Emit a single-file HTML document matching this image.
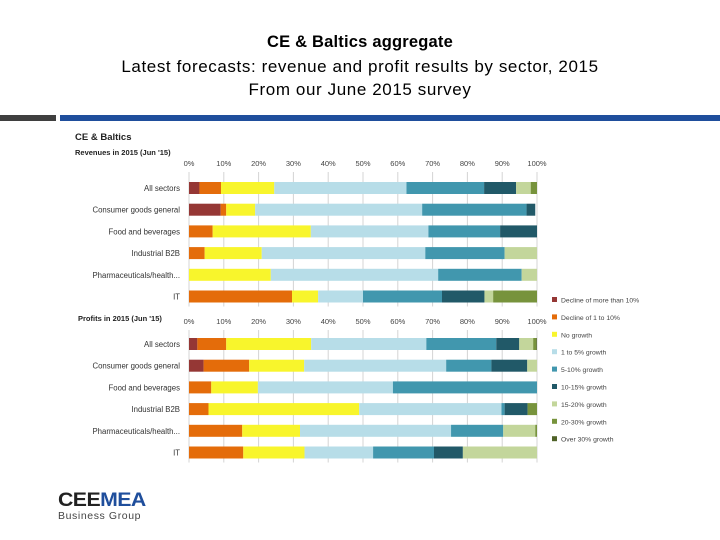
<!DOCTYPE html>
<html><head><meta charset="utf-8">
<style>
body{margin:0;width:720px;height:540px;background:#fff;overflow:hidden;position:relative;font-family:"Liberation Sans",sans-serif}
.t{position:absolute;left:0;width:720px;text-align:center;font-size:17px;letter-spacing:0.6px;color:#000;font-family:"Liberation Sans",sans-serif}
</style></head><body>
<div class="t" style="top:33px;font-weight:bold;font-size:16.5px;letter-spacing:0.2px">CE &amp; Baltics aggregate</div>
<div class="t" style="top:57px">Latest forecasts: revenue and profit results by sector, 2015</div>
<div class="t" style="top:80px">From our June 2015 survey</div>
<div style="position:absolute;left:0;top:115px;width:56px;height:6px;background:#3f3f3f"></div>
<div style="position:absolute;left:60px;top:115px;width:660px;height:6px;background:#1f4e9c"></div>
<svg id="chart" width="720" height="540" style="position:absolute;left:0;top:0" font-family="Liberation Sans, sans-serif"></svg>
<div style="position:absolute;left:58px;top:492px;font-family:'Liberation Sans',sans-serif">
<div style="font-size:19px;font-weight:bold;letter-spacing:-0.5px;line-height:18px;transform:scaleX(1.12);transform-origin:left"><span style="color:#222">CEE</span><span style="color:#1f4e9c">MEA</span></div>
<div style="font-size:10.5px;color:#444;line-height:12px;letter-spacing:0.6px">Business Group</div>
</div>
<script>
const categories=["All sectors","Consumer goods general","Food and beverages","Industrial B2B","Pharmaceuticals/health...","IT"];
const seriesNames=["Decline of more than 10%","Decline of 1 to 10%","No growth","1 to 5% growth","5-10% growth","10-15% growth","15-20% growth","20-30% growth","Over 30% growth"];
const tickLabels=["0%","10%","20%","30%","40%","50%","60%","70%","80%","90%","100%"];
const revenue=[
[3,6.2,15.3,38,22.3,9.2,4.2,1.8,0],
[9.1,1.6,8.3,48,30,2.5,0,0,0],
[0,6.8,28.2,33.8,20.6,10.6,0,0,0],
[0,4.5,16.4,47,22.8,0,9.3,0,0],
[0,0,23.5,48.1,24,0,4.4,0,0],
[0,29.6,7.5,12.9,22.7,12.2,2.5,12.6,0]];
const profits=[
[2.4,8.3,24.4,33.1,20.1,6.6,4,0.9,0.2],
[4.2,13.1,15.8,40.8,13,10.3,2.8,0,0],
[0,6.4,13.4,38.8,41.4,0,0,0,0],
[0,5.6,43.3,40.9,0.9,6.6,0,2.7,0],
[0,15.3,16.6,43.4,15,0,9.2,0.5,0],
[0,15.6,17.6,19.7,17.5,8.3,21.3,0,0]];
const colors=["#953735","#e46c0a","#f8f52c","#b7dde8","#4197ae","#215968","#c3d69b","#77933c","#4f6228"];
const svg=document.getElementById('chart');
const NS="http://www.w3.org/2000/svg";
const X0=189,W=348;
const x=v=>X0+v/100*W;
function mk(tag,attrs,text){const e=document.createElementNS(NS,tag);for(const k in attrs)e.setAttribute(k,attrs[k]);if(text!==undefined)e.textContent=text;svg.appendChild(e);return e;}
function txt(x0,y0,s,size,anchor,weight,fill){const e=mk('text',{x:x0,y:y0,'font-size':size,'text-anchor':anchor,'font-weight':weight||'normal',fill:fill||'#222'},s);return e;}
let e;
e=txt(75,140,"CE & Baltics",9.5,"start","bold");


e=txt(75,155,"Revenues in 2015 (Jun '15)",7.5,"start","bold");


e=txt(78,321,"Profits in 2015 (Jun '15)",7.5,"start","bold");


function panel(data,tickY,rowY0,name){
  const gTop=tickY+6,gBot=rowY0+5*21.7+10;
  tickLabels.forEach((t,i)=>{
    const xv=x(i*10);
    const l=mk('line',{x1:xv,x2:xv,y1:gTop,y2:gBot,stroke:'#d4d4d4','stroke-width':1});
    
    
    const tt=txt(xv,tickY,t,7.5,'middle','normal','#444');
    
    
  });
  data.forEach((row,r)=>{
    const cy=rowY0+r*21.7;
    const lab=txt(180,cy+3,categories[r],7.8,'end','normal','#333');
    
    
    let acc=0;
    row.forEach((v,s)=>{
      if(v<=0)return;
      const rc=mk('rect',{x:x(acc),y:cy-6,width:x(acc+v)-x(acc),height:12,fill:colors[s]});
      
      
      acc+=v;
    });
  });
}
panel(revenue,166,188,'revenue');
panel(profits,324,344,'profits');
seriesNames.forEach((n,i)=>{
  const ly=300+i*17.4;
  const r=mk('rect',{x:552,y:ly-3,width:5,height:5,fill:colors[i]});
  
  
  const t=txt(561,ly+2.5,n,6.8,'start','normal','#444');
  
  
});
</script>
</body></html>
